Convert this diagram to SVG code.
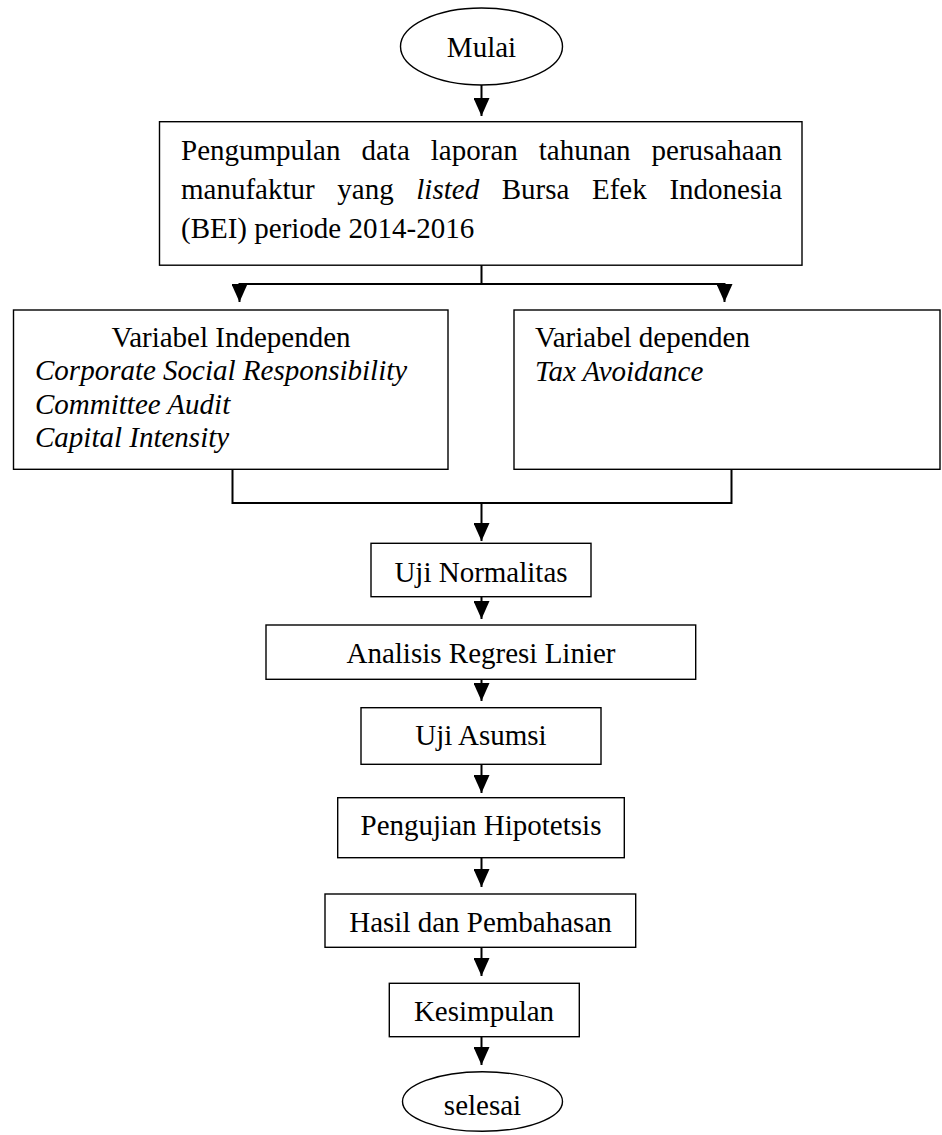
<svg xmlns="http://www.w3.org/2000/svg" width="942" height="1135" viewBox="0 0 942 1135">
<style>
text{font-family:"Liberation Serif","Times New Roman",serif;font-size:29px;fill:#000}
.it{font-style:italic}
.c{text-anchor:middle}
.box{fill:#fff;stroke:#000;stroke-width:1.4}
.con{fill:none;stroke:#000;stroke-width:2}
</style>
<defs>
<marker id="ah" viewBox="0 0 18 16" refX="18" refY="8" markerWidth="18" markerHeight="16" markerUnits="userSpaceOnUse" orient="auto">
<path d="M0,0 L18,8 L0,16 z" fill="#000"/>
</marker>
</defs>
<rect width="942" height="1135" fill="#fff"/>
<g id="connectors">
<path class="con" d="M481.5,85 V116" marker-end="url(#ah)"/>
<path class="con" d="M481.5,265 V284 H239.5 V302" marker-end="url(#ah)"/>
<path class="con" d="M481.5,284 H724.5 V302" marker-end="url(#ah)"/>
<path class="con" d="M232.5,469 V503 H731.5 V469"/>
<path class="con" d="M481.5,503 V541" marker-end="url(#ah)"/>
<path class="con" d="M481.5,597 V619" marker-end="url(#ah)"/>
<path class="con" d="M481.5,679 V701" marker-end="url(#ah)"/>
<path class="con" d="M481.5,764 V793" marker-end="url(#ah)"/>
<path class="con" d="M481.5,858 V887" marker-end="url(#ah)"/>
<path class="con" d="M481.5,947 V976" marker-end="url(#ah)"/>
<path class="con" d="M481.5,1037 V1065" marker-end="url(#ah)"/>
</g>
<g id="mulai">
<ellipse class="box" cx="481.5" cy="46.5" rx="81" ry="38.5"/>
<text class="c" x="481.5" y="57">Mulai</text>
</g>
<g id="pengumpulan">
<rect class="box" x="159.5" y="121.7" width="642.5" height="143.5"/>
<text y="160"><tspan x="181">Pengumpulan</tspan><tspan x="361.5">data</tspan><tspan x="430.8">laporan</tspan><tspan x="538.8">tahunan</tspan><tspan x="651.6">perusahaan</tspan></text>
<text y="199"><tspan x="181">manufaktur</tspan><tspan x="337.3">yang</tspan><tspan x="416.3" class="it">listed</tspan><tspan x="501.7">Bursa</tspan><tspan x="592">Efek</tspan><tspan x="669.4">Indonesia</tspan></text>
<text x="181" y="238">(BEI) periode 2014-2016</text>
</g>
<g id="independen">
<rect class="box" x="13.5" y="310" width="434.5" height="159.3"/>
<text class="c" x="231" y="347.3">Variabel Independen</text>
<text class="it" x="35" y="380.3">Corporate Social Responsibility</text>
<text class="it" x="35" y="413.6">Committee Audit</text>
<text class="it" x="35" y="446.8">Capital Intensity</text>
</g>
<g id="dependen">
<rect class="box" x="514" y="310" width="426" height="159.3"/>
<text x="535" y="347.3">Variabel dependen</text>
<text class="it" x="535" y="380.5">Tax Avoidance</text>
</g>
<g id="normalitas">
<rect class="box" x="371" y="543.3" width="220" height="53.4"/>
<text class="c" x="481" y="581.7">Uji Normalitas</text>
</g>
<g id="regresi">
<rect class="box" x="266" y="625" width="429.7" height="54.3"/>
<text class="c" x="481" y="662.7">Analisis Regresi Linier</text>
</g>
<g id="asumsi">
<rect class="box" x="361" y="707.7" width="240" height="56.6"/>
<text class="c" x="481" y="745">Uji Asumsi</text>
</g>
<g id="hipotesis">
<rect class="box" x="337.7" y="797.7" width="286.6" height="60"/>
<text class="c" x="481" y="835">Pengujian Hipotetsis</text>
</g>
<g id="hasil">
<rect class="box" x="325" y="894" width="310.7" height="53.3"/>
<text class="c" x="480.5" y="931.7">Hasil dan Pembahasan</text>
</g>
<g id="kesimpulan">
<rect class="box" x="389.3" y="983.3" width="190" height="53.4"/>
<text class="c" x="484" y="1021">Kesimpulan</text>
</g>
<g id="selesai">
<ellipse class="box" cx="482.5" cy="1101.5" rx="80" ry="29.8"/>
<text class="c" x="482.5" y="1115">selesai</text>
</g>
</svg>
